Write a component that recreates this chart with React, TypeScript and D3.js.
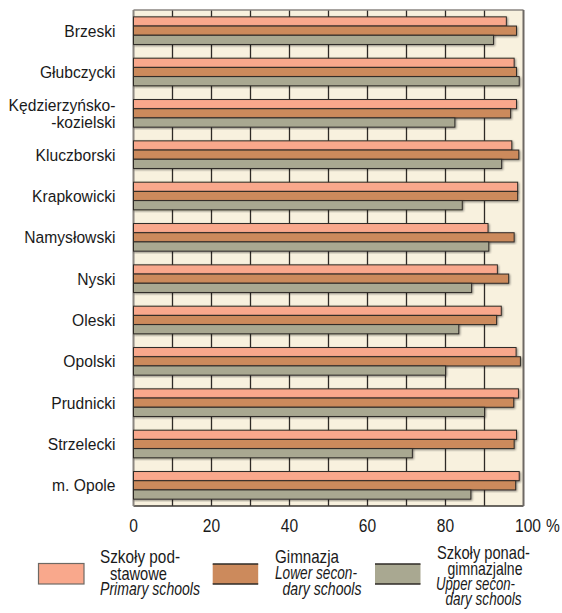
import React from "react";
import * as d3 from "d3";

const categories = [
  "Brzeski",
  "Głubczycki",
  "Kędzierzyńsko-\n-kozielski",
  "Kluczborski",
  "Krapkowicki",
  "Namysłowski",
  "Nyski",
  "Oleski",
  "Opolski",
  "Prudnicki",
  "Strzelecki",
  "m. Opole",
];
const primary = [95.6, 97.6, 98.2, 97.0, 98.5, 90.9, 93.3, 94.3, 98.1, 98.7, 98.2, 98.9];
const lowerSecondary = [98.2, 98.2, 96.7, 98.8, 98.5, 97.6, 96.2, 93.1, 99.2, 97.5, 97.6, 98.0];
const upperSecondary = [92.3, 98.9, 82.4, 94.4, 84.3, 91.1, 86.7, 83.4, 80.0, 90.0, 71.5, 86.5];
const xTicks = [0, 20, 40, 60, 80, 100];
const seriesKeys = ["primary", "lower", "upper"];
const seriesColors = ["#f9a88c", "#cc8a5c", "#a9a891"];

const W = 562;
const H = 613;
const left = 133.5;
const right = 523.5;
const top = 10;
const bottom = 506;
const FONT = "'Liberation Sans', Arial, sans-serif";

function T({ x, y, sx, anchor = "start", size, italic = false, len, children }: any) {
  return (
    <g transform={`translate(${x},${y}) scale(${sx},1)`}>
      <text
        x={0}
        y={0}
        textAnchor={anchor}
        fontSize={size}
        fontStyle={italic ? "italic" : "normal"}
        fill="#1a1a1a"
        textLength={len ? len / sx : undefined}
        lengthAdjust={len ? "spacingAndGlyphs" : undefined}
      >
        {children}
      </text>
    </g>
  );
}

export default function App() {
  const x = d3.scaleLinear().domain([0, 100]).range([left, right]);
  const y = d3
    .scaleBand<string>()
    .domain(categories)
    .range([top, bottom])
    .paddingInner(0.332)
    .paddingOuter(0.166);
  const yInner = d3.scaleBand<string>().domain(seriesKeys).range([0, y.bandwidth()]);
  const seriesValues = [primary, lowerSecondary, upperSecondary];
  const grid = d3.range(10, 100, 10);

  const legendSwatchX = [38.5, 212.7, 375];
  const legendText = [
    { t: "Szkoły pod-", x: 100, y: 563, len: 80, it: false },
    { t: "stawowe", x: 110, y: 579.5, len: 57, it: false },
    { t: "Primary schools", x: 100, y: 595, len: 100, it: true },
    { t: "Gimnazja", x: 275, y: 563, len: 64, it: false },
    { t: "Lower secon-", x: 275, y: 579, len: 82, it: true },
    { t: "dary schools", x: 282.5, y: 595, len: 79, it: true },
    { t: "Szkoły ponad-", x: 437, y: 559, len: 93, it: false },
    { t: "gimnazjalne", x: 447.5, y: 574.5, len: 75, it: false },
    { t: "Upper secon-", x: 436, y: 590, len: 79, it: true },
    { t: "dary schools", x: 445.5, y: 605, len: 76, it: true },
  ];

  return (
    <svg
      width={W}
      height={H}
      style={{ position: "absolute", left: 0, top: 0 }}
      fontFamily={FONT}
    >
      <defs>
        <filter id="sh" x="-5%" y="-30%" width="110%" height="160%">
          <feGaussianBlur in="SourceAlpha" stdDeviation="0.8" />
          <feOffset dx="1" dy="1" result="b" />
          <feComponentTransfer>
            <feFuncA type="linear" slope="0.45" />
          </feComponentTransfer>
          <feMerge>
            <feMergeNode />
            <feMergeNode in="SourceGraphic" />
          </feMerge>
        </filter>
      </defs>
      <rect x={left} y={top} width={right - left} height={bottom - top} fill="#f8f1de" />
      {grid.map((g) => (
        <line
          key={g}
          x1={x(g)}
          x2={x(g)}
          y1={top}
          y2={bottom}
          stroke="#2e2a26"
          strokeWidth={1.3}
        />
      ))}
      <line x1={left} x2={right} y1={top} y2={top} stroke="#8a8580" strokeWidth={1.5} />
      <line x1={left} x2={right} y1={bottom} y2={bottom} stroke="#3a3632" strokeWidth={1.5} />
      <line x1={left} x2={left} y1={top} y2={bottom} stroke="#8a8580" strokeWidth={2} />
      <line x1={right} x2={right} y1={top} y2={bottom} stroke="#6e6964" strokeWidth={2} />
      {categories.map((c, i) => (
        <g key={c} transform={`translate(0,${y(c)})`}>
          {seriesKeys.map((k, s) => (
            <rect
              key={k}
              x={x(0)}
              y={yInner(k)}
              width={x(seriesValues[s][i]) - x(0)}
              height={yInner.bandwidth()}
              fill={seriesColors[s]}
              stroke="#2e2a26"
              strokeWidth={1}
              filter="url(#sh)"
            />
          ))}
        </g>
      ))}
      {categories.map((c) => {
        const lines = c.split("\n");
        const cy = (y(c) as number) + y.bandwidth() / 2;
        const lh = 17;
        const y0 = cy - ((lines.length - 1) * lh) / 2 + 6;
        return lines.map((l, j) => (
          <T key={c + j} x={115.5} y={y0 + j * lh} sx={0.92} anchor="end" size={17}>
            {l}
          </T>
        ));
      })}
      {xTicks.map((t) => (
        <T key={t} x={t === 100 ? x(t) + 4.5 : x(t)} y={531.5} sx={0.82} anchor="middle" size={19}>
          {t}
        </T>
      ))}
      <T x={553} y={531.5} sx={0.82} anchor="middle" size={19}>
        %
      </T>
      {/* legend */}
      <rect x={legendSwatchX[0]} y={563.5} width={45.5} height={20.5} fill={seriesColors[0]} stroke="#6e6964" strokeWidth={1.2} />
      {[1, 2].map((s) => (
        <g key={s}>
          <rect x={legendSwatchX[s]} y={564} width={45.5} height={20} fill={seriesColors[s]} />
          <line x1={legendSwatchX[s]} x2={legendSwatchX[s] + 45.5} y1={564} y2={564} stroke="#2e2a26" strokeWidth={1.5} />
          <line x1={legendSwatchX[s]} x2={legendSwatchX[s] + 45.5} y1={584} y2={584} stroke="#2e2a26" strokeWidth={1.5} />
        </g>
      ))}
      {legendText.map((d, i) => (
        <T key={i} x={d.x} y={d.y} sx={0.85} size={17.5} italic={d.it} len={d.len}>
          {d.t}
        </T>
      ))}
    </svg>
  );
}
